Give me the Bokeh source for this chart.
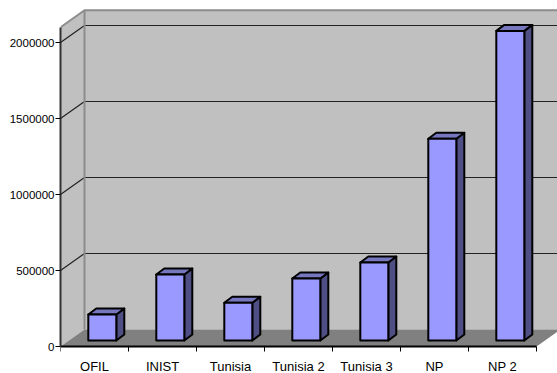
from bokeh.embed import file_html
from bokeh.models import FixedTicker, Range1d
from bokeh.plotting import figure
from bokeh.resources import INLINE

categories = ["OFIL", "INIST", "Tunisia", "Tunisia 2", "Tunisia 3", "NP", "NP 2"]
values = [171000, 434000, 248000, 408000, 513000, 1327000, 2037000]
y_ticks = [0, 500000, 1000000, 1500000, 2000000]

# Scale of the frame: pixels per category and per value unit
PX_X = 68.0
PX_Y = 152e-6
px = lambda n: n / PX_X
py = lambda n: n / PX_Y

Y_MAX = 2100000
DEPTH_X = px(24)
DEPTH_Y = py(17)
N = len(categories)

# The frame reaches the bottom of the page; the category axis sits at value 0 inside it
p = figure(
    width=557, height=373, output_backend="svg", toolbar_location=None,
    x_range=Range1d(0, 497 / PX_X), y_range=Range1d(-27 / PX_Y, 346 / PX_Y),
    min_border_left=60, min_border_right=0, min_border_top=0, min_border_bottom=0,
    background_fill_color="white", border_fill_color="white", outline_line_color=None,
)
p.grid.visible = False

# Side wall, back wall and floor of the 3D box
p.patch([0, DEPTH_X, DEPTH_X, 0], [0, DEPTH_Y, Y_MAX + DEPTH_Y, Y_MAX],
        fill_color="#C0C0C0", line_color=None)
p.patch([DEPTH_X, N + DEPTH_X, N + DEPTH_X, DEPTH_X],
        [DEPTH_Y, DEPTH_Y, Y_MAX + DEPTH_Y, Y_MAX + DEPTH_Y],
        fill_color="#C0C0C0", line_color=None)
p.patch([0, N, N + DEPTH_X, DEPTH_X], [0, 0, DEPTH_Y, DEPTH_Y],
        fill_color="#808080", line_color=None)

# Grid lines run across the side wall and the back wall
grid = [v for v in y_ticks if v > 0]
p.multi_line([[0, DEPTH_X, N + DEPTH_X] for _ in grid],
             [[v, v + DEPTH_Y, v + DEPTH_Y] for v in grid],
             line_color="#222222", line_width=1.2)

# Box edges
p.line([0, DEPTH_X, N + DEPTH_X], [Y_MAX, Y_MAX + DEPTH_Y, Y_MAX + DEPTH_Y],
       line_color="#8C8C8C", line_width=2)
p.line([DEPTH_X, DEPTH_X], [DEPTH_Y, Y_MAX + DEPTH_Y], line_color="#8C8C8C", line_width=2)

# Each bar is a front face, a top face and a side face
BAR_LEFT = px(27.8)
BAR_W = px(28.0)
BAR_DX = px(8)
BAR_DY = py(6)
BAR_BASE = py(6)
for i, v in enumerate(values):
    x0 = i + BAR_LEFT
    x1 = x0 + BAR_W
    y0 = BAR_BASE
    y1 = BAR_BASE + v
    p.patch([x1, x1 + BAR_DX, x1 + BAR_DX, x1], [y0, y0 + BAR_DY, y1 + BAR_DY, y1],
            fill_color="#4F4F85", line_color="black", line_width=2, line_join="round")
    p.patch([x0, x1, x1 + BAR_DX, x0 + BAR_DX], [y1, y1, y1 + BAR_DY, y1 + BAR_DY],
            fill_color="#7777C0", line_color="black", line_width=2, line_join="round")
    p.patch([x0, x1, x1, x0], [y0, y0, y1, y1],
            fill_color="#9999FF", line_color="black", line_width=2, line_join="round")

# Value axis
ya = p.yaxis[0]
ya.ticker = FixedTicker(ticks=y_ticks)
ya.bounds = (0, Y_MAX)
ya.axis_line_color = "#333333"
ya.axis_line_width = 2
ya.major_tick_in = 0
ya.major_tick_out = 5
ya.major_tick_line_color = "black"
ya.major_tick_line_width = 1
ya.minor_tick_line_color = None
ya.major_label_text_font = "Liberation Sans"
ya.major_label_text_font_size = "11.5px"
ya.major_label_text_color = "black"
ya.major_label_standoff = 1
ya.formatter.use_scientific = False

# Category axis: ticks at the boundaries, labels at the centres
xa = p.xaxis[0]
centres = [i + 0.5 for i in range(N)]
xa.fixed_location = 0
xa.ticker = FixedTicker(ticks=centres, minor_ticks=list(range(N + 1)))
xa.major_label_overrides = {c: name for c, name in zip(centres, categories)}
xa.bounds = (0, N)
xa.axis_line_color = "black"
xa.axis_line_width = 2
xa.major_tick_line_color = None
xa.major_tick_in = 0
xa.major_tick_out = 0
xa.minor_tick_in = 0
xa.minor_tick_out = 5
xa.minor_tick_line_color = "black"
xa.major_label_text_font = "Liberation Sans"
xa.major_label_text_font_size = "13px"
xa.major_label_text_color = "black"
xa.major_label_standoff = 7

open("out.html", "w").write(file_html(p, INLINE))
